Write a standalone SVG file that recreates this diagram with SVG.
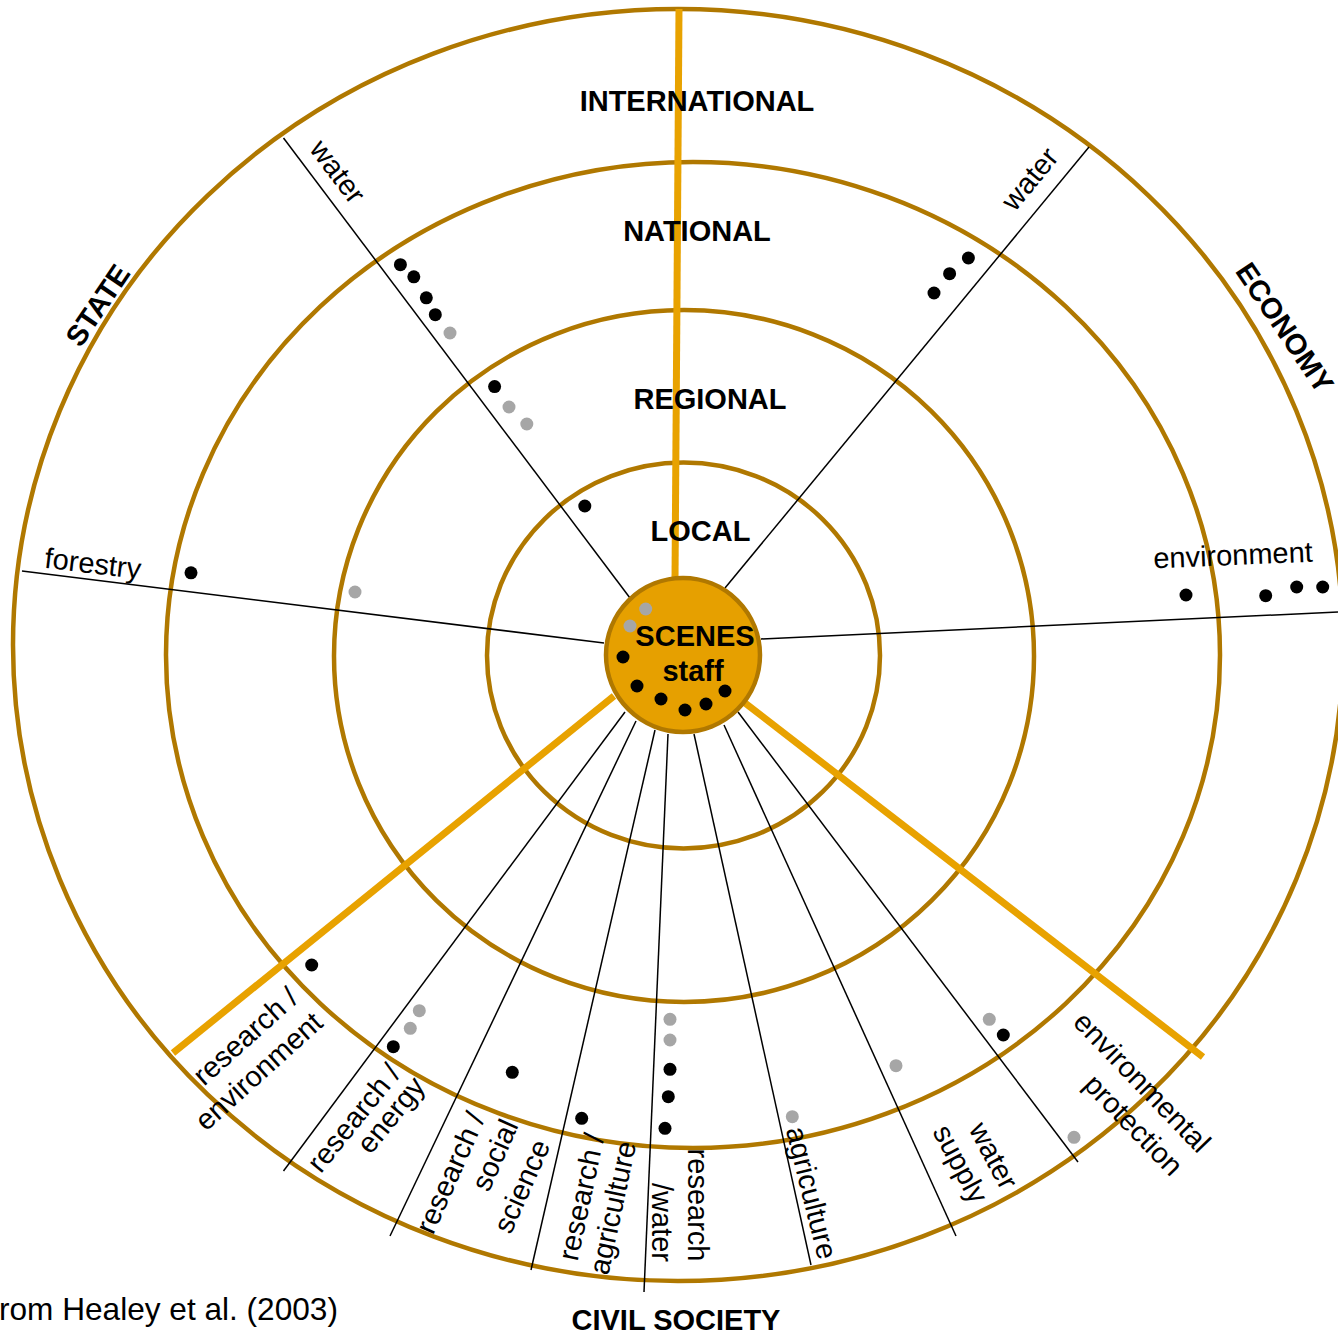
<svg xmlns="http://www.w3.org/2000/svg" width="1338" height="1338" viewBox="0 0 1338 1338">
<style>
.ring{fill:none;stroke:#B07800;stroke-width:4.5}
.axis{stroke:#E8A200;stroke-width:7;fill:none}
.thin{stroke:#000;stroke-width:1.5;fill:none}
.b{fill:#000}
.g{fill:#A6A6A6}
.lvl{font-family:"Liberation Sans",Arial,sans-serif;font-weight:bold;font-size:29px;fill:#000;text-anchor:middle}
.lab{font-family:"Liberation Sans",Arial,sans-serif;font-size:29px;fill:#000;text-anchor:middle}
</style>
<rect width="1338" height="1338" fill="#fff"/>
<g id="rings">
<ellipse class="ring" cx="678" cy="645" rx="665" ry="636"/>
<ellipse class="ring" cx="693" cy="655" rx="527" ry="493"/>
<ellipse class="ring" cx="684" cy="656" rx="350" ry="346"/>
<ellipse class="ring" cx="683.5" cy="655.5" rx="196.5" ry="193"/>
</g>
<g id="connectors">
<line class="thin" x1="283.5" y1="138" x2="630" y2="598"/>
<line class="thin" x1="1089" y1="147" x2="725" y2="588"/>
<line class="thin" x1="22" y1="571" x2="604" y2="643"/>
<line class="thin" x1="761" y1="639" x2="1338" y2="612"/>
<line class="thin" x1="625" y1="712" x2="283.5" y2="1171"/>
<line class="thin" x1="636" y1="721" x2="390" y2="1236"/>
<line class="thin" x1="655" y1="730" x2="531" y2="1270"/>
<line class="thin" x1="668" y1="734" x2="644" y2="1292"/>
<line class="thin" x1="694" y1="734" x2="811" y2="1265"/>
<line class="thin" x1="724" y1="725" x2="956" y2="1236"/>
<line class="thin" x1="738" y1="712" x2="1078" y2="1162"/>
<line class="axis" x1="679" y1="9" x2="675" y2="580"/>
<line class="axis" x1="614" y1="696" x2="173" y2="1053"/>
<line class="axis" x1="745" y1="703" x2="1203" y2="1057"/>
</g>
<g id="node-scenes">
<circle cx="683" cy="655" r="77" fill="#E6A000" stroke="#B07800" stroke-width="4.5"/>
<text class="lvl" x="695" y="646">SCENES</text>
<text class="lvl" x="693" y="681">staff</text>
<circle class="g" cx="645.7" cy="609" r="6.5"/>
<circle class="g" cx="630" cy="626" r="6.5"/>
<circle class="b" cx="623" cy="657" r="6.5"/>
<circle class="b" cx="637" cy="686" r="6.5"/>
<circle class="b" cx="661" cy="699" r="6.5"/>
<circle class="b" cx="685" cy="710" r="6.5"/>
<circle class="b" cx="706" cy="704" r="6.5"/>
<circle class="b" cx="725" cy="691" r="6.5"/>
</g>
<g id="level-labels">
<text class="lvl" x="697" y="111">INTERNATIONAL</text>
<text class="lvl" x="697" y="241">NATIONAL</text>
<text class="lvl" x="710" y="409">REGIONAL</text>
<text class="lvl" x="700.5" y="541">LOCAL</text>
</g>
<g id="sector-labels">
<g transform="translate(97.5,305) rotate(-56)"><text class="lvl" y="10.3">STATE</text></g>
<g transform="translate(1285,327.5) rotate(56)"><text class="lvl" y="10.3">ECONOMY</text></g>
<text class="lvl" x="676" y="1330">CIVIL SOCIETY</text>
</g>
<g id="state-water">
<g transform="translate(337.5,171.7) rotate(53)"><text class="lab" y="9.6">water</text></g>
<circle class="b" cx="400.4" cy="264.7" r="6.5"/>
<circle class="b" cx="413.8" cy="276.8" r="6.5"/>
<circle class="b" cx="426.3" cy="297.8" r="6.5"/>
<circle class="b" cx="435.3" cy="314.7" r="6.5"/>
<circle class="g" cx="450" cy="333" r="6.5"/>
<circle class="b" cx="494.6" cy="386.6" r="6.5"/>
<circle class="g" cx="509" cy="407" r="6.5"/>
<circle class="g" cx="526.8" cy="424" r="6.5"/>
<circle class="b" cx="584.8" cy="506" r="6.5"/>
</g>
<g id="state-forestry">
<g transform="translate(92.7,566) rotate(6.8)"><text class="lab" y="7.4">forestry</text></g>
<circle class="b" cx="191" cy="572.8" r="6.5"/>
<circle class="g" cx="355" cy="592" r="6.5"/>
</g>
<g id="economy-water">
<g transform="translate(1030,179) rotate(-50.5)"><text class="lab" y="9.6">water</text></g>
<circle class="b" cx="934" cy="293" r="6.5"/>
<circle class="b" cx="949.6" cy="273.7" r="6.5"/>
<circle class="b" cx="968.4" cy="258" r="6.5"/>
</g>
<g id="economy-environment">
<text class="lab" x="1233.4" y="565" transform="rotate(-2.4 1233.4 565)">environment</text>
<circle class="b" cx="1186" cy="595" r="6.5"/>
<circle class="b" cx="1265.7" cy="595.7" r="6.5"/>
<circle class="b" cx="1296.7" cy="587" r="6.5"/>
<circle class="b" cx="1322.7" cy="587" r="6.5"/>
</g>
<g id="cs-research-environment">
<g transform="translate(245,1035.8) rotate(-42)"><text class="lab" y="10.4">research /</text></g>
<g transform="translate(258.3,1070.8) rotate(-42)"><text class="lab" y="10.4">environment</text></g>
<circle class="b" cx="311.7" cy="965" r="6.5"/>
</g>
<g id="cs-research-energy">
<g transform="translate(353.3,1117.5) rotate(-51)"><text class="lab" y="10.4">research /</text></g>
<g transform="translate(395,1118.3) rotate(-51)"><text class="lab" y="4.5">energy</text></g>
<circle class="g" cx="419.3" cy="1010.7" r="6.5"/>
<circle class="g" cx="410.3" cy="1028.3" r="6.5"/>
<circle class="b" cx="393.3" cy="1046.7" r="6.5"/>
</g>
<g id="cs-research-social-science">
<g transform="translate(449.8,1172.6) rotate(-66)"><text class="lab" y="10.4">research /</text></g>
<g transform="translate(494.4,1154.8) rotate(-66)"><text class="lab" y="10.4">social</text></g>
<g transform="translate(521.2,1186) rotate(-66)"><text class="lab" y="10.4">science</text></g>
<circle class="b" cx="512.3" cy="1072.3" r="6.5"/>
</g>
<g id="cs-research-agriculture">
<g transform="translate(580.8,1196.7) rotate(-78)"><text class="lab" y="10.4">research /</text></g>
<g transform="translate(615,1208.3) rotate(-78)"><text class="lab" y="7.4">agriculture</text></g>
<circle class="b" cx="581.7" cy="1118.3" r="6.5"/>
</g>
<g id="cs-research-water">
<g transform="translate(698.3,1205) rotate(90)"><text class="lab" y="10.4">research</text></g>
<g transform="translate(662.5,1222.5) rotate(90)"><text class="lab" y="10.4">/water</text></g>
<circle class="g" cx="670" cy="1019.3" r="6.5"/>
<circle class="g" cx="670" cy="1040" r="6.5"/>
<circle class="b" cx="670" cy="1069.3" r="6.5"/>
<circle class="b" cx="668.3" cy="1096.7" r="6.5"/>
<circle class="b" cx="665" cy="1128.3" r="6.5"/>
</g>
<g id="cs-agriculture">
<g transform="translate(809.2,1193.3) rotate(76)"><text class="lab" y="7.4">agriculture</text></g>
<circle class="g" cx="792.3" cy="1116.7" r="6.5"/>
</g>
<g id="cs-water-supply">
<g transform="translate(993.3,1155.8) rotate(62)"><text class="lab" y="9.6">water</text></g>
<g transform="translate(958.3,1165) rotate(62)"><text class="lab" y="7.4">supply</text></g>
<circle class="g" cx="896" cy="1065.7" r="6.5"/>
</g>
<g id="cs-environmental-protection">
<g transform="translate(1142.5,1081.7) rotate(46)"><text class="lab" y="10.4">environmental</text></g>
<g transform="translate(1131.7,1126.7) rotate(46)"><text class="lab" y="7.4">protection</text></g>
<circle class="g" cx="989.3" cy="1019.3" r="6.5"/>
<circle class="b" cx="1003.3" cy="1035" r="6.5"/>
<circle class="g" cx="1074" cy="1137.3" r="6.5"/>
</g>
<text x="-1" y="1320" font-family="Liberation Sans, Arial, sans-serif" font-size="31.6" fill="#000">rom Healey et al. (2003)</text>
</svg>
